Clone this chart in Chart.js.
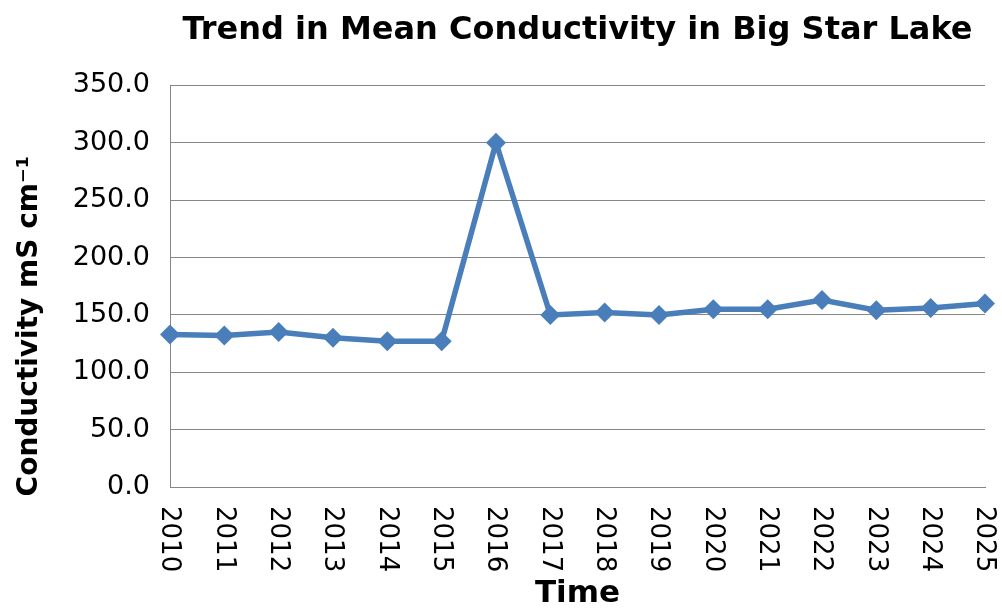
<!DOCTYPE html>
<html>
<head>
<meta charset="utf-8">
<script src="https://cdn.jsdelivr.net/npm/chart.js@4/dist/chart.umd.min.js"></script>
<style>
  html, body { margin: 0; padding: 0; background: #fff; }
  #wrap { width: 1002px; height: 609px; }
</style>
</head>
<body>
<div id="wrap"><canvas id="canvas"></canvas></div>
<script>
let years = ['2010', '2011', '2012', '2013', '2014', '2015', '2016', '2017',
             '2018', '2019', '2020', '2021', '2022', '2023', '2024', '2025'];
let conductivity = [133, 132, 135, 130, 127, 127, 300, 150,
                    152, 150, 155, 155, 163, 154, 156, 160];

let yTicks = [0, 50, 100, 150, 200, 250, 300, 350];

let blue = '#4A7EBB';
let grid = '#868686';
let font = 'DejaVu Sans';

// x labels read top-to-bottom, and the y title sits a bit low, like the original
let extraText = {
    id: 'extraText',
    afterDraw(chart) {
        let ctx = chart.ctx;
        let x = chart.scales.x;
        let area = chart.chartArea;
        ctx.save();
        ctx.fillStyle = '#000';
        ctx.font = '26px "' + font + '"';
        ctx.textAlign = 'left';
        ctx.textBaseline = 'middle';
        for (let i = 0; i < years.length; i++) {
            ctx.save();
            ctx.translate(x.getPixelForValue(i) - 1, area.bottom + 19);
            ctx.rotate(Math.PI / 2);
            ctx.fillText(years[i], 0, 0);
            ctx.restore();
        }
        ctx.font = 'bold 28px "' + font + '"';
        ctx.textAlign = 'center';
        ctx.save();
        ctx.translate(30, (area.top + area.bottom) / 2 + 40);
        ctx.rotate(-Math.PI / 2);
        ctx.fillText('Conductivity mS cm\u207B\u00B9', 0, 0);
        ctx.restore();
        ctx.restore();
    }
};

let options = {
    type: 'line',
    data: {
        labels: years,
        datasets: [{
            data: conductivity,
            fill: false,
            borderColor: blue,
            backgroundColor: blue,
            borderWidth: 5.5,
            pointStyle: 'rectRot',
            pointRadius: 10,
            pointHoverRadius: 10,
            pointBorderWidth: 0,
            tension: 0
        }]
    },
    options: {
        responsive: true,
        maintainAspectRatio: false,
        animation: false,
        layout: { padding: { left: 0, right: 17, top: 0, bottom: 0 } },
        plugins: {
            legend: { display: false },
            tooltip: { enabled: false },
            title: {
                display: true,
                fullSize: false,
                text: 'Trend in Mean Conductivity in Big Star Lake',
                color: '#000',
                font: { family: font, size: 32, weight: 'bold', lineHeight: 1.2 },
                padding: { top: 11, bottom: 36 }
            }
        },
        scales: {
            x: {
                offset: false,
                grid: { display: false },
                border: { display: true, color: grid, width: 1 },
                ticks: { display: false },
                title: {
                    display: true,
                    text: 'Time',
                    color: '#000',
                    font: { family: font, size: 31, weight: 'bold', lineHeight: 1 },
                    padding: { top: 0, bottom: 0 }
                },
                afterFit(scale) { scale.height = 122; }
            },
            y: {
                min: 0,
                max: 350,
                afterBuildTicks(scale) {
                    scale.ticks = yTicks.map(v => ({ value: v }));
                },
                grid: { color: grid, lineWidth: 1, drawTicks: false },
                border: { display: true, color: grid, width: 1 },
                ticks: {
                    color: '#000',
                    font: { family: font, size: 27 },
                    padding: 20,
                    callback: v => v.toFixed(1)
                },
                afterFit(scale) { scale.width = 170; }
            }
        }
    },
    plugins: [extraText]
};

let chart = new Chart(document.getElementById('canvas'), options);
</script>
</body>
</html>
